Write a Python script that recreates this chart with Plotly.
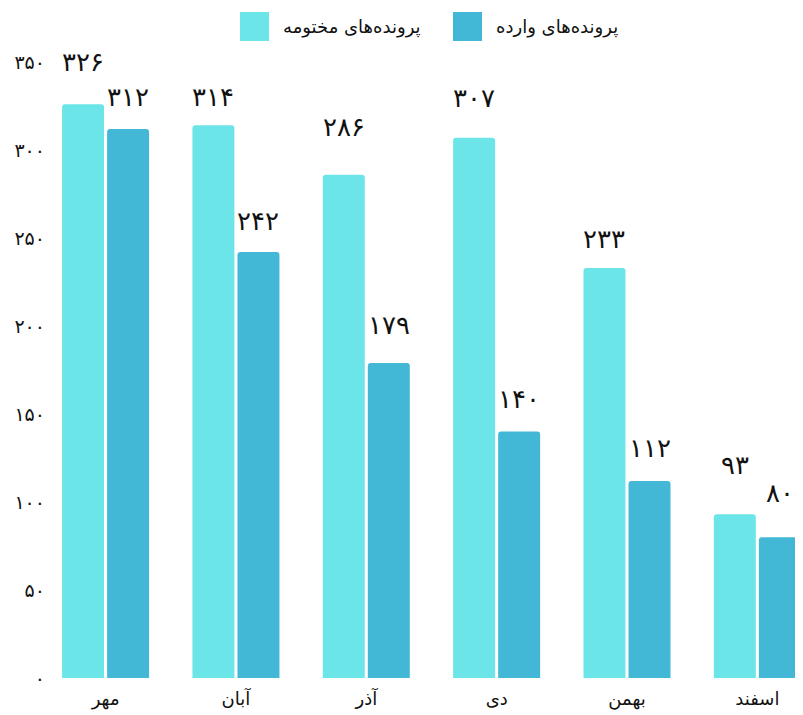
import plotly.graph_objects as go

months = ["مهر", "آبان", "آذر", "دی", "بهمن", "اسفند"]
closed_name = "پرونده‌های مختومه"
incoming_name = "پرونده‌های وارده"
closed_vals = [326, 314, 286, 307, 233, 93]
incoming_vals = [312, 242, 179, 140, 112, 80]
y_ticks = [0, 50, 100, 150, 200, 250, 300, 350]

# style: pixel gap between each value label and the top of its bar
closed_label_gap = [32, 18, 38, 30, 19, 39]
incoming_label_gap = [22, 21, 28, 23, 23, 34]

C_LIGHT = "#6ce5e8"
C_DARK = "#42b8d6"
FONT = "DejaVu Sans"

def fa(n):
    return str(n).translate(str.maketrans("0123456789", "۰۱۲۳۴۵۶۷۸۹"))

# page body has an 8px margin; compensate so screen positions match
OFF = 8
FW, FH = 803 - OFF, 715 - OFF
L, T, B, R = 60 - OFF, 62 - OFF, 37, 0
PW, PH = FW - L - R, FH - T - B

idx = list(range(len(months)))
W = 0.322
fig = go.Figure()
fig.add_trace(go.Bar(x=idx, y=closed_vals, name=closed_name, marker=dict(color=C_LIGHT, cornerradius=3, line_width=0),
                     width=W, offset=-0.334, showlegend=False))
fig.add_trace(go.Bar(x=idx, y=incoming_vals, name=incoming_name, marker=dict(color=C_DARK, cornerradius=3, line_width=0),
                     width=W, offset=0.0115, showlegend=False))

DESC = 7
ann = []
for i, v, g in zip(idx, closed_vals, closed_label_gap):
    ann.append(dict(x=i - 0.334 + W / 2, y=v, xref="x", yref="y", text=fa(v), showarrow=False,
                    yanchor="bottom", yshift=g - DESC, font=dict(family=FONT, size=26, color="#111")))
for i, v, g in zip(idx, incoming_vals, incoming_label_gap):
    ann.append(dict(x=i + 0.0115 + W / 2, y=v, xref="x", yref="y", text=fa(v), showarrow=False,
                    yanchor="bottom", yshift=g - DESC, font=dict(family=FONT, size=26, color="#111")))

# custom legend (screen pixel positions)
def px(x):
    return (x - OFF - L) / PW
def py(y):
    return (FH - B - (y - OFF)) / PH
shapes = [
    dict(type="rect", xref="paper", yref="paper", x0=px(240), x1=px(269), y0=py(41), y1=py(12),
         fillcolor=C_LIGHT, line_width=0),
    dict(type="rect", xref="paper", yref="paper", x0=px(453), x1=px(482), y0=py(41), y1=py(12),
         fillcolor=C_DARK, line_width=0),
]
ann.append(dict(x=px(281), y=py(27), xref="paper", yref="paper", text=closed_name, showarrow=False,
                xanchor="left", yanchor="middle", font=dict(family=FONT, size=18, color="#111")))
ann.append(dict(x=px(494), y=py(27), xref="paper", yref="paper", text=incoming_name, showarrow=False,
                xanchor="left", yanchor="middle", font=dict(family=FONT, size=18, color="#111")))

fig.update_layout(
    width=FW, height=FH,
    margin=dict(l=L, r=R, t=T, b=B),
    plot_bgcolor="white", paper_bgcolor="white",
    annotations=ann, shapes=shapes,
    font=dict(family=FONT, color="#111"),
    xaxis=dict(range=[-0.35, 5.35], tickvals=idx, ticktext=months, showgrid=False, zeroline=False,
               showline=False, ticks="", tickfont=dict(size=18, family=FONT), ticklabelstandoff=8),
    yaxis=dict(range=[0, 350], tickvals=y_ticks, ticktext=[fa(t) for t in y_ticks], showgrid=False,
               zeroline=False, showline=False, ticks="", tickfont=dict(size=19, family=FONT), ticklabelstandoff=14),
)
fig.write_html("out.html")
